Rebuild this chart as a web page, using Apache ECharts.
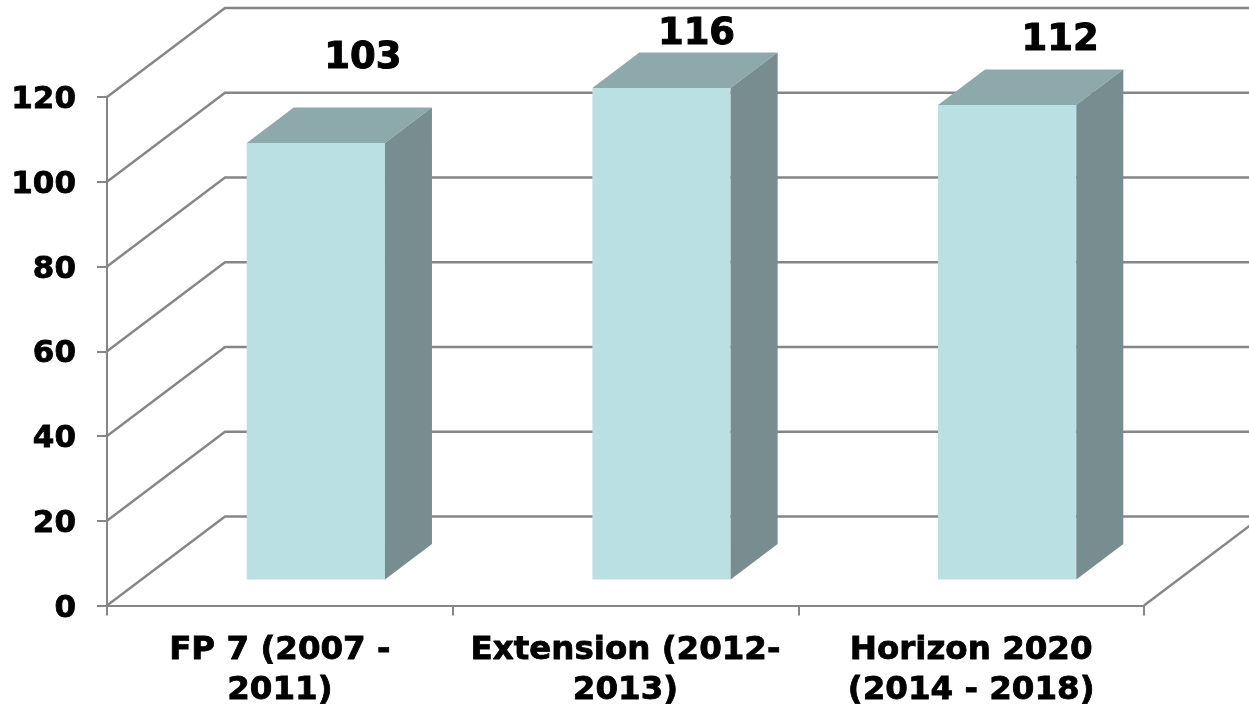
<!DOCTYPE html>
<html>
<head>
<meta charset="utf-8">
<script src="https://cdn.jsdelivr.net/npm/echarts@6/dist/echarts.min.js"></script>
<style>html,body{margin:0;padding:0;background:#fff}#c{width:1249px;height:707px}</style>
</head>
<body>
<div id="c"></div>
<script>
var categories = ['FP 7 (2007 -\n2011)', 'Extension (2012-\n2013)', 'Horizon 2020\n(2014 - 2018)'];
var values = [103, 116, 112];
var yTicks = [0, 20, 40, 60, 80, 100, 120];

var FONT = '"DejaVu Sans", Verdana, sans-serif';
var WALL_DX = 118, WALL_DY = -89;      // depth of the back wall
var BAR_SHIFT_X = 36, BAR_LIFT = 26;   // bars stand on the middle of the floor
var BAR_DX = 47, BAR_DY = -35.5;       // depth of a bar
var LABEL_OFFSETS = [[47, -84.5], [35, -54], [53, -65]]; // hand-placed labels in the source

var chart = echarts.init(document.getElementById('c'), null, {renderer: 'canvas'});

function wallItem(params, api) {
  var cs = params.coordSys;
  var p = api.coord([0, api.value(1)]);
  var y = p[1], x0 = cs.x, x1 = cs.x + cs.width;
  var children = [{
    type: 'polyline',
    shape: {points: [[x0, y], [x0 + WALL_DX, y + WALL_DY], [x1 + WALL_DX, y + WALL_DY]]},
    style: {fill: null, stroke: '#868686', lineWidth: 2.4, lineJoin: 'miter'}
  }];
  if (params.dataIndex === 0) {
    children.push({
      type: 'line',
      shape: {x1: x1, y1: y, x2: x1 + WALL_DX, y2: y + WALL_DY},
      style: {stroke: '#868686', lineWidth: 2.4}
    });
  }
  return {type: 'group', children: children};
}

function barItem(params, api) {
  var i = api.value(0), v = api.value(1);
  var base = api.coord([i, 0]), top = api.coord([i, v]);
  var w = api.size([1, 0])[0] * 0.4;
  var l = base[0] + BAR_SHIFT_X - w / 2, r = l + w;
  var yb = base[1] - BAR_LIFT, yt = top[1] - BAR_LIFT;
  var off = LABEL_OFFSETS[i];
  return {type: 'group', children: [
    {type: 'polygon', shape: {points: [[l, yb], [r, yb], [r, yt], [l, yt]]}, style: {fill: '#BBE0E3'}},
    {type: 'polygon', shape: {points: [[l, yt], [r, yt], [r + BAR_DX, yt + BAR_DY], [l + BAR_DX, yt + BAR_DY]]}, style: {fill: '#8DA9AB'}},
    {type: 'polygon', shape: {points: [[r, yb], [r, yt], [r + BAR_DX, yt + BAR_DY], [r + BAR_DX, yb + BAR_DY]]}, style: {fill: '#778D8F'}},
    {type: 'text', style: {
      text: String(v), x: (l + r) / 2 + off[0], y: yt + off[1],
      align: 'center', verticalAlign: 'middle',
      fontFamily: FONT, fontWeight: 'bold', fontSize: 37, fill: '#000',
      stroke: '#000', lineWidth: 1
    }}
  ]};
}

chart.setOption({
  animation: false,
  backgroundColor: '#fff',
  grid: {left: 107, top: 97, width: 1037, height: 508.5, containLabel: false, outerBoundsMode: 'none'},
  xAxis: {
    type: 'category',
    data: categories,
    boundaryGap: true,
    axisLine: {show: true, onZero: false, lineStyle: {color: '#868686', width: 2}},
    axisTick: {show: true, length: 10, alignWithLabel: false, lineStyle: {color: '#868686', width: 2}},
    axisLabel: {
      show: true, interval: 0, margin: 25, color: '#000',
      fontFamily: FONT, fontWeight: 'bold', fontSize: 32.5, lineHeight: 40, align: 'center',
      textBorderColor: '#000', textBorderWidth: 0.8
    },
    splitLine: {show: false}
  },
  yAxis: {
    type: 'value', min: 0, max: 120, interval: 20,
    axisLine: {show: true, lineStyle: {color: '#868686', width: 2}},
    axisTick: {show: true, length: 10, lineStyle: {color: '#868686', width: 2}},
    axisLabel: {
      show: true, margin: 31, color: '#000',
      fontFamily: FONT, fontWeight: 'bold', fontSize: 31,
      verticalAlign: 'top', lineHeight: 6,
      textBorderColor: '#000', textBorderWidth: 0.8
    },
    splitLine: {show: false}
  },
  series: [
    {type: 'custom', z: 1, silent: true, renderItem: wallItem, clip: false,
     encode: {x: 0, y: 1}, data: yTicks.map(function (t) { return [0, t]; })},
    {type: 'custom', z: 3, silent: true, renderItem: barItem, clip: false,
     encode: {x: 0, y: 1}, data: values.map(function (v, i) { return [i, v]; })}
  ]
});
</script>
</body>
</html>
